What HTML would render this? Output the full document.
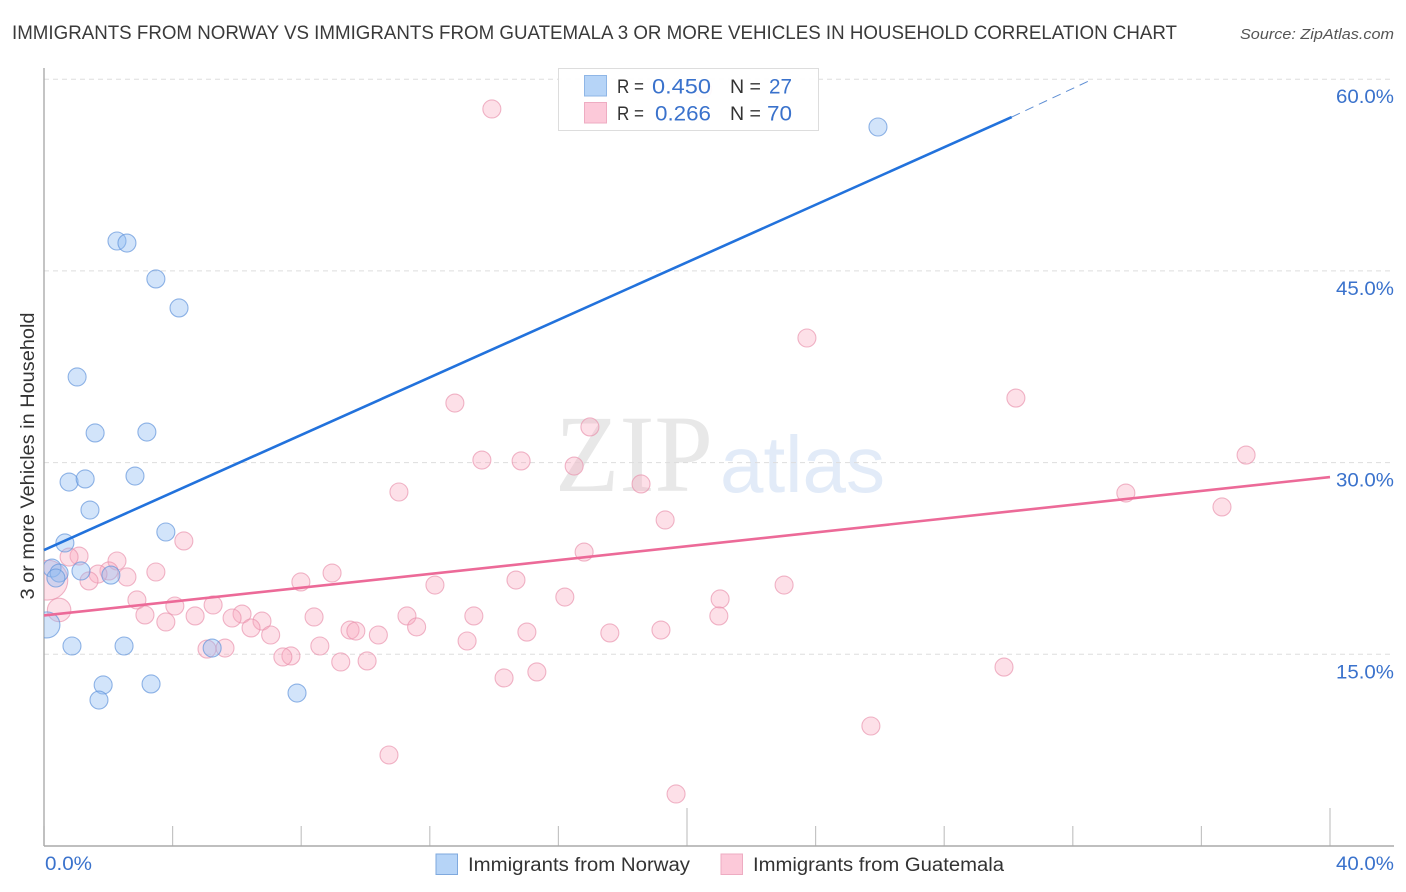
<!DOCTYPE html>
<html lang="en">
<head>
<meta charset="utf-8">
<title>Immigrants from Norway vs Immigrants from Guatemala correlation chart</title>
<style>
html,body{margin:0;padding:0;background:#fff;width:1406px;height:892px;overflow:hidden}
svg{display:block;font-family:"Liberation Sans",sans-serif}
</style>
</head>
<body>
<svg id="chart" xmlns="http://www.w3.org/2000/svg" width="1406" height="892" viewBox="0 0 1406 892">
  <defs>
    <clipPath id="plot-clip"><rect x="44" y="60" width="1350" height="786"/></clipPath>
  </defs>
  <rect x="0" y="0" width="1406" height="892" fill="#ffffff"/>
  <text x="12" y="39" font-size="19.5" fill="#3a3a3a" textLength="1165" lengthAdjust="spacingAndGlyphs">IMMIGRANTS FROM NORWAY VS IMMIGRANTS FROM GUATEMALA 3 OR MORE VEHICLES IN HOUSEHOLD CORRELATION CHART</text>
  <text x="1394" y="39" font-size="15" font-style="italic" fill="#555555" text-anchor="end" textLength="154" lengthAdjust="spacingAndGlyphs">Source: ZipAtlas.com</text>
  <g>
    <text x="555" y="491" font-family="'Liberation Serif',serif" font-size="110" fill="#e8e8e8" textLength="158" lengthAdjust="spacingAndGlyphs">ZIP</text>
    <text x="720" y="492" font-size="80" font-weight="400" fill="#e2ebf8" textLength="165" lengthAdjust="spacingAndGlyphs">atlas</text>
  </g>
  <g id="grid"></g>
  <g id="axes"></g>
  <g id="points-guatemala" clip-path="url(#plot-clip)"></g>
  <g id="points-norway" clip-path="url(#plot-clip)"></g>
  <g id="trends"></g>
  <text transform="translate(34,456) rotate(-90)" font-size="19" fill="#333333" text-anchor="middle" textLength="287" lengthAdjust="spacingAndGlyphs">3 or more Vehicles in Household</text>
  <g>
    <rect x="558.5" y="68.5" width="260" height="62" fill="#ffffff" fill-opacity="0.92" stroke="#dddddd" stroke-width="1"/>
    <rect x="584.5" y="75.5" width="22" height="20.5" fill="#b6d4f7" stroke="#8fb6e6"/>
    <rect x="584.5" y="102.5" width="22" height="20.5" fill="#fcc9d9" stroke="#eeacc2"/>
    <text x="617" y="93" font-size="19" fill="#333333" textLength="27" lengthAdjust="spacingAndGlyphs">R =</text>
    <text x="652" y="93.5" font-size="21" fill="#3a72cc" textLength="59" lengthAdjust="spacingAndGlyphs">0.450</text>
    <text x="730" y="93" font-size="19" fill="#333333" textLength="31" lengthAdjust="spacingAndGlyphs">N =</text>
    <text x="769" y="93.5" font-size="21" fill="#3a72cc" textLength="23" lengthAdjust="spacingAndGlyphs">27</text>
    <text x="617" y="120" font-size="19" fill="#333333" textLength="27" lengthAdjust="spacingAndGlyphs">R =</text>
    <text x="655" y="120.5" font-size="21" fill="#3a72cc" textLength="56" lengthAdjust="spacingAndGlyphs">0.266</text>
    <text x="730" y="120" font-size="19" fill="#333333" textLength="31" lengthAdjust="spacingAndGlyphs">N =</text>
    <text x="767" y="120.5" font-size="21" fill="#3a72cc" textLength="25" lengthAdjust="spacingAndGlyphs">70</text>
  </g>
  <g>
    <rect x="436" y="854" width="21.5" height="20.5" fill="#b6d4f7" stroke="#7fa9de"/>
    <text x="468" y="871" font-size="19" fill="#333333" textLength="222" lengthAdjust="spacingAndGlyphs">Immigrants from Norway</text>
    <rect x="721" y="854" width="21.5" height="20.5" fill="#fcc9d9" stroke="#eeacc2"/>
    <text x="753" y="871" font-size="19" fill="#333333" textLength="251" lengthAdjust="spacingAndGlyphs">Immigrants from Guatemala</text>
  </g>
</svg>
<script>
// Chart data (percent units)
const yTickValues = [15, 30, 45, 60];
const yTickLabels = ["15.0%", "30.0%", "45.0%", "60.0%"];
const xTickValues = [0, 4, 8, 12, 16, 20, 24, 28, 32, 36, 40];
const xEndLabels = ["0.0%", "40.0%"];
const xEndValues = [0, 40];
const xMajorTicks = [20, 40];

const norwayX = [25.94,2.27,2.58,3.48,4.20,1.03,1.59,3.20,2.83,0.78,1.28,1.43,3.79,0.65,0.25,1.15,0.47,0.37,2.08,0.09,0.87,2.49,5.23,1.84,3.33,1.71,7.87];
const norwayY = [56.26,47.34,47.18,44.37,42.10,36.70,32.32,32.39,28.95,28.48,28.72,26.29,24.57,23.71,21.75,21.52,21.36,20.97,21.20,17.30,15.65,15.65,15.49,12.60,12.68,11.42,11.97];
const norwayWeight = [1,1,1,1,1,1,1,1,1,1,1,1,1,1,1,1,1,1,1,2.1,1,1,1,1,1,1,1];

const guatemalaX = [13.93,23.73,30.23,12.78,16.98,37.39,13.62,14.84,16.49,18.57,11.04,33.65,36.64,19.32,4.35,16.80,1.09,0.78,2.27,3.48,2.02,1.68,2.58,1.40,0.12,8.96,7.99,14.68,12.16,23.02,16.20,21.03,2.89,0.47,4.07,5.26,3.14,4.70,3.79,6.16,5.85,8.40,11.29,13.37,20.99,6.78,6.44,11.59,9.52,9.70,7.05,10.40,15.02,17.60,19.19,13.16,8.58,5.63,5.07,7.68,7.43,9.23,10.05,29.86,15.33,14.31,25.72,10.73,19.66,20.50];
const guatemalaY = [57.67,39.75,35.05,34.66,32.79,30.59,30.20,30.13,29.73,28.33,27.70,27.62,26.53,25.51,23.87,23.00,22.69,22.61,22.30,21.44,21.52,21.28,21.05,20.74,20.80,21.36,20.66,20.81,20.42,20.42,19.48,19.33,19.25,18.47,18.78,18.86,18.08,18.00,17.53,18.15,17.84,17.92,18.00,18.00,18.00,17.60,17.06,17.14,16.90,16.82,16.51,16.51,16.74,16.67,16.90,16.04,15.65,15.49,15.41,14.87,14.79,14.40,14.48,14.00,13.62,13.15,9.39,7.12,4.07,59.20];
const guatemalaWeight = [1,1,1,1,1,1,1,1,1,1,1,1,1,1,1,1,1,1,1,1,1,1,1,1,4.9,1,1,1,1,1,1,1,1,1.7,1,1,1,1,1,1,1,1,1,1,1,1,1,1,1,1,1,1,1,1,1,1,1,1,1,1,1,1,1,1,1,1,1,1,1,0.9];

const norwayTrendX = [0, 30.1, 32.53];
const norwayTrendY = [23.16, 57.04, 59.9];
const guatemalaTrendX = [0, 40];
const guatemalaTrendY = [18.04, 28.87];

// Axis functions
const xPx = v => 44 + v * 32.15;
const yPx = v => 846 - v * 12.78;
const radius = w => 9 * Math.sqrt(w);
const NS = 'http://www.w3.org/2000/svg';
function make(tag, parent, attrs) {
  const el = document.createElementNS(NS, tag);
  for (const k in attrs) el.setAttribute(k, attrs[k]);
  parent.appendChild(el);
  return el;
}

const grid = document.getElementById('grid');
const axes = document.getElementById('axes');
yTickValues.forEach((v, i) => {
  const line = make('line', grid, {x1: 44, x2: 1394, y1: yPx(v), y2: yPx(v), stroke: '#dddddd', 'stroke-width': 1, 'stroke-dasharray': '5 4'});
  
  
  const label = make('text', axes, {x: 1394, y: yPx(v) + 24, 'font-size': 19.5, fill: '#3a72cc', 'text-anchor': 'end', textLength: 58, lengthAdjust: 'spacingAndGlyphs'});
  
  
  label.textContent = yTickLabels[i];
});
xTickValues.forEach(v => {
  const major = xMajorTicks.includes(v);
  const tick = make('line', axes, {x1: xPx(v), x2: xPx(v), y1: major ? 808 : 826, y2: 846, stroke: '#c4c4c4', 'stroke-width': 1.2});
  
  
});
xEndValues.forEach((v, i) => {
  const label = make('text', axes, {x: i === 0 ? xPx(v) + 1 : 1394, y: 870, 'font-size': 19.5, fill: '#3a72cc', 'text-anchor': i === 0 ? 'start' : 'end', textLength: i === 0 ? 47 : 58, lengthAdjust: 'spacingAndGlyphs'});
  
  
  label.textContent = xEndLabels[i];
});
const yAxis = make('line', axes, {x1: 44, x2: 44, y1: 68, y2: 846, stroke: '#aaaaaa', 'stroke-width': 1.4});


const xAxis = make('line', axes, {x1: 44, x2: 1394, y1: 846, y2: 846, stroke: '#aaaaaa', 'stroke-width': 1.4});



const gG = document.getElementById('points-guatemala');
guatemalaX.forEach((v, i) => {
  const c = make('circle', gG, {cx: xPx(v), cy: yPx(guatemalaY[i]), r: radius(guatemalaWeight[i]), fill: '#f9a8c0', 'fill-opacity': 0.36, stroke: '#e88fab', 'stroke-opacity': 0.65, 'stroke-width': 1.1});
  
  
});
const gN = document.getElementById('points-norway');
norwayX.forEach((v, i) => {
  const c = make('circle', gN, {cx: xPx(v), cy: yPx(norwayY[i]), r: radius(norwayWeight[i]), fill: '#8fbbf2', 'fill-opacity': 0.4, stroke: '#6496dc', 'stroke-opacity': 0.7, 'stroke-width': 1.1});
  
  
});

const trends = document.getElementById('trends');
const nSolid = make('line', trends, {x1: xPx(norwayTrendX[0]), y1: yPx(norwayTrendY[0]), x2: xPx(norwayTrendX[1]), y2: yPx(norwayTrendY[1]), stroke: '#2272dc', 'stroke-width': 2.6});


const nDash = make('line', trends, {x1: xPx(norwayTrendX[1]), y1: yPx(norwayTrendY[1]), x2: xPx(norwayTrendX[2]), y2: yPx(norwayTrendY[2]), stroke: '#5f8fd4', 'stroke-width': 1, 'stroke-dasharray': '9 6'});


const gLine = make('line', trends, {x1: xPx(guatemalaTrendX[0]), y1: yPx(guatemalaTrendY[0]), x2: xPx(guatemalaTrendX[1]), y2: yPx(guatemalaTrendY[1]), stroke: '#ec6a98', 'stroke-width': 2.6});


</script>
</body>
</html>
